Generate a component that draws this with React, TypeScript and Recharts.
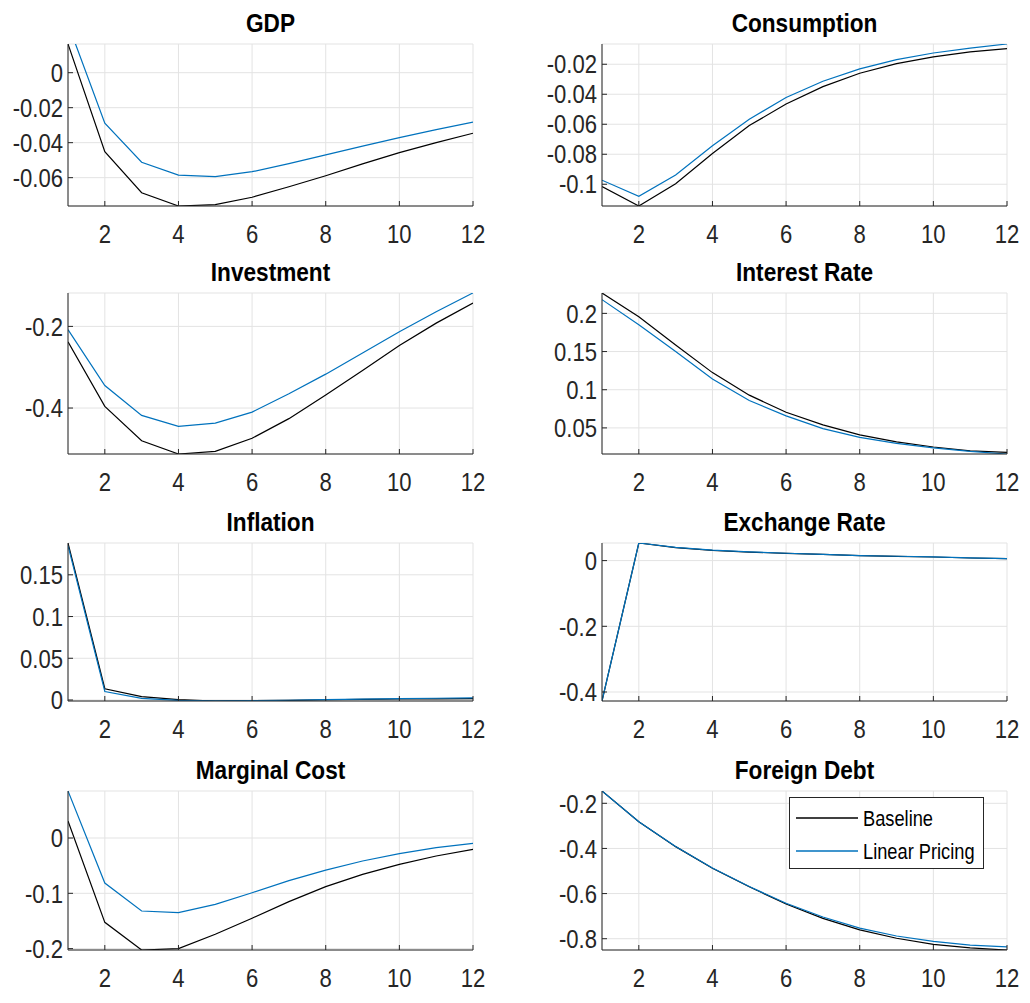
import React from 'react';
import { LineChart, Line, XAxis, YAxis, CartesianGrid, Legend } from 'recharts';

const FONT = "'Liberation Sans', Arial, sans-serif";

// ---- data ----
const periods = [1, 2, 3, 4, 5, 6, 7, 8, 9, 10, 11, 12];
const xTicks = [2, 4, 6, 8, 10, 12];
const seriesNames = ['Baseline', 'Linear Pricing'];
const seriesColors = ['#000000', '#0072BD'];

const gdpBaseline = [0.0164, -0.0451, -0.0686, -0.0762, -0.0754, -0.0712, -0.0652, -0.0589, -0.0521, -0.0457, -0.0400, -0.0346];
const gdpLinear = [0.028, -0.0289, -0.0512, -0.0585, -0.0594, -0.0566, -0.0520, -0.0470, -0.0420, -0.0371, -0.0325, -0.0283];
const gdpTicks = [-0.06, -0.04, -0.02, 0];
const gdpRange = [-0.0762, 0.0164];

const consBaseline = [-0.1016, -0.1145, -0.0996, -0.0795, -0.0609, -0.0465, -0.0349, -0.0260, -0.0196, -0.0151, -0.0118, -0.0096];
const consLinear = [-0.0973, -0.1080, -0.0938, -0.0744, -0.0566, -0.0422, -0.0313, -0.0231, -0.0169, -0.0125, -0.0092, -0.0065];
const consTicks = [-0.1, -0.08, -0.06, -0.04, -0.02];
const consRange = [-0.1145, -0.0065];

const invBaseline = [-0.238, -0.396, -0.480, -0.5126, -0.506, -0.474, -0.426, -0.368, -0.308, -0.247, -0.192, -0.143];
const invLinear = [-0.208, -0.345, -0.418, -0.445, -0.437, -0.410, -0.365, -0.317, -0.265, -0.213, -0.164, -0.118];
const invTicks = [-0.4, -0.2];
const invRange = [-0.5126, -0.1182];

const rateBaseline = [0.2267, 0.1955, 0.1587, 0.1224, 0.0929, 0.0705, 0.054, 0.0408, 0.0316, 0.025, 0.020, 0.0179];
const rateLinear = [0.218, 0.185, 0.150, 0.114, 0.0859, 0.0658, 0.0491, 0.0376, 0.0298, 0.0237, 0.0192, 0.0158];
const rateTicks = [0.05, 0.1, 0.15, 0.2];
const rateRange = [0.0158, 0.2267];

const inflBaseline = [0.188, 0.0135, 0.004, 0.0005, -0.0012, -0.0008, -0.0004, 0.0003, 0.0008, 0.0012, 0.0014, 0.0016];
const inflLinear = [0.185, 0.0102, 0.002, -0.0005, -0.0010, -0.0008, -0.0003, 0.0005, 0.0010, 0.0017, 0.0021, 0.0026];
const inflTicks = [0, 0.05, 0.1, 0.15];
const inflRange = [-0.0012, 0.1881];

const fxBaseline = [-0.4274, 0.0536, 0.0396, 0.0314, 0.026, 0.022, 0.019, 0.015, 0.013, 0.011, 0.008, 0.006];
const fxLinear = [-0.4274, 0.0536, 0.0400, 0.0318, 0.0264, 0.0224, 0.0192, 0.0154, 0.0132, 0.0112, 0.0082, 0.0062];
const fxTicks = [-0.4, -0.2, 0];
const fxRange = [-0.4274, 0.0536];

const mcBaseline = [0.0307, -0.1525, -0.2025, -0.200, -0.174, -0.145, -0.115, -0.088, -0.0657, -0.0476, -0.0325, -0.0205];
const mcLinear = [0.085, -0.0814, -0.132, -0.135, -0.120, -0.099, -0.077, -0.058, -0.0416, -0.0284, -0.0175, -0.0096];
const mcTicks = [-0.2, -0.1, 0];
const mcRange = [-0.2025, 0.085];

const debtBaseline = [-0.1455, -0.2815, -0.392, -0.488, -0.570, -0.646, -0.710, -0.761, -0.798, -0.825, -0.841, -0.850];
const debtLinear = [-0.1455, -0.2815, -0.391, -0.487, -0.569, -0.643, -0.704, -0.753, -0.788, -0.812, -0.828, -0.836];
const debtTicks = [-0.8, -0.6, -0.4, -0.2];
const debtRange = [-0.850, -0.1455];

// ---- layout ----
const ROW_TOPS = [44, 293, 543, 791];
const ROW_BOTTOMS = [206, 454, 701, 950];
const COL_LEFTS = [68, 602];
const COL_RIGHTS = [473, 1007];
const Y_AXIS_W = 60;
const M_LEFT = 8;
const M_RIGHT = 17;
const M_TOP = 10;
const X_AXIS_H = 44;
const NARROW = 0.85;

type Panel = {
  title: string;
  base: number[];
  lin: number[];
  ticks: number[];
  range: number[];
  row: number;
  col: number;
  legend?: boolean;
};

const panels: Panel[] = [
  { title: 'GDP', base: gdpBaseline, lin: gdpLinear, ticks: gdpTicks, range: gdpRange, row: 0, col: 0 },
  { title: 'Consumption', base: consBaseline, lin: consLinear, ticks: consTicks, range: consRange, row: 0, col: 1 },
  { title: 'Investment', base: invBaseline, lin: invLinear, ticks: invTicks, range: invRange, row: 1, col: 0 },
  { title: 'Interest Rate', base: rateBaseline, lin: rateLinear, ticks: rateTicks, range: rateRange, row: 1, col: 1 },
  { title: 'Inflation', base: inflBaseline, lin: inflLinear, ticks: inflTicks, range: inflRange, row: 2, col: 0 },
  { title: 'Exchange Rate', base: fxBaseline, lin: fxLinear, ticks: fxTicks, range: fxRange, row: 2, col: 1 },
  { title: 'Marginal Cost', base: mcBaseline, lin: mcLinear, ticks: mcTicks, range: mcRange, row: 3, col: 0 },
  { title: 'Foreign Debt', base: debtBaseline, lin: debtLinear, ticks: debtTicks, range: debtRange, row: 3, col: 1, legend: true },
];

const XTick = (props: any) => {
  const { x, y, payload } = props;
  return (
    <g transform={`translate(${x},${y})`}>
      <text
        transform={`scale(${NARROW},1)`}
        x={0}
        y={16}
        textAnchor="middle"
        fontSize={26}
        fontFamily={FONT}
        fill="#262626"
      >
        {String(payload.value)}
      </text>
    </g>
  );
};

const YTick = (props: any) => {
  const { x, y, payload } = props;
  return (
    <g transform={`translate(${x},${y})`}>
      <text
        transform={`scale(${NARROW},1)`}
        x={0}
        y={0}
        dy="0.355em"
        textAnchor="end"
        fontSize={26}
        fontFamily={FONT}
        fill="#262626"
      >
        {String(payload.value)}
      </text>
    </g>
  );
};

const LegendBox = (props: any) => {
  const payload = (props.payload || []) as any[];
  return (
    <div
      style={{
        width: 193,
        height: 70,
        border: '1px solid #262626',
        background: '#ffffff',
        boxSizing: 'content-box',
      }}
    >
      <svg width={193} height={70} style={{ display: 'block' }}>
        {payload.map((p, i) => (
          <g key={i}>
            <line x1={6} x2={68} y1={20 + i * 33} y2={20 + i * 33} stroke={p.color} strokeWidth={1.3} />
            <g transform={`translate(73,${20 + i * 33})`}>
              <text transform="scale(0.83,1)" x={0} y={0} dy="0.36em" fontSize={22} fontFamily={FONT} fill="#000">
                {p.value}
              </text>
            </g>
          </g>
        ))}
      </svg>
    </div>
  );
};

const PanelChart = ({ p }: { p: Panel }) => {
  const plotTop = ROW_TOPS[p.row];
  const plotH = ROW_BOTTOMS[p.row] - plotTop;
  const colLeft = COL_LEFTS[p.col];
  const plotW = COL_RIGHTS[p.col] - colLeft;
  const chartLeft = colLeft - Y_AXIS_W - M_LEFT;
  const chartTop = plotTop - M_TOP;
  const width = M_LEFT + Y_AXIS_W + plotW + M_RIGHT;
  const height = M_TOP + plotH + X_AXIS_H;
  const data = periods.map((x, i) => ({ x, base: p.base[i], lin: p.lin[i] }));
  return (
    <div style={{ position: 'absolute', left: chartLeft, top: chartTop, width, height }}>
      <LineChart
        width={width}
        height={height}
        data={data}
        margin={{ top: M_TOP, right: M_RIGHT, bottom: 0, left: M_LEFT }}
      >
        <CartesianGrid stroke="#e3e3e3" strokeWidth={1} horizontal vertical />
        <XAxis
          dataKey="x"
          type="number"
          domain={[1, 12]}
          ticks={xTicks}
          interval={0}
          allowDataOverflow
          height={X_AXIS_H}
          tick={<XTick />}
          tickSize={-5}
          tickMargin={26}
          tickLine={{ stroke: '#262626' }}
          axisLine={{ stroke: '#262626' }}
        />
        <YAxis
          type="number"
          domain={p.range}
          ticks={p.ticks}
          interval={0}
          allowDataOverflow
          width={Y_AXIS_W}
          tick={<YTick />}
          tickSize={-5}
          tickMargin={10}
          tickLine={{ stroke: '#262626' }}
          axisLine={{ stroke: '#262626' }}
        />
        <Line
          dataKey="base"
          name={seriesNames[0]}
          stroke={seriesColors[0]}
          strokeWidth={1.2}
          dot={false}
          activeDot={false}
          isAnimationActive={false}
        />
        <Line
          dataKey="lin"
          name={seriesNames[1]}
          stroke={seriesColors[1]}
          strokeWidth={1.2}
          dot={false}
          activeDot={false}
          isAnimationActive={false}
        />
        {p.legend ? (
          <Legend
            layout="horizontal"
            verticalAlign="middle"
            align="center"
            content={LegendBox}
            wrapperStyle={{ position: 'absolute', left: 789 - chartLeft, top: 797 - chartTop, width: 195, height: 72 }}
          />
        ) : null}
      </LineChart>
    </div>
  );
};

export default function App() {
  return (
    <div style={{ position: 'absolute', left: 0, top: 0, width: 1030, height: 1003, background: '#ffffff', overflow: 'hidden' }}>
      {panels.map((p, i) => (
        <PanelChart key={i} p={p} />
      ))}
      <svg width={1030} height={1003} style={{ position: 'absolute', left: 0, top: 0, pointerEvents: 'none' }}>
        {panels.map((p, i) => (
          <g key={i} transform={`translate(${(COL_LEFTS[p.col] + COL_RIGHTS[p.col]) / 2},${ROW_TOPS[p.row] - 12})`}>
            <text
              transform="scale(0.87,1)"
              x={0}
              y={0}
              textAnchor="middle"
              fontSize={26}
              fontWeight="bold"
              fontFamily={FONT}
              fill="#000"
            >
              {p.title}
            </text>
          </g>
        ))}
      </svg>
    </div>
  );
}
